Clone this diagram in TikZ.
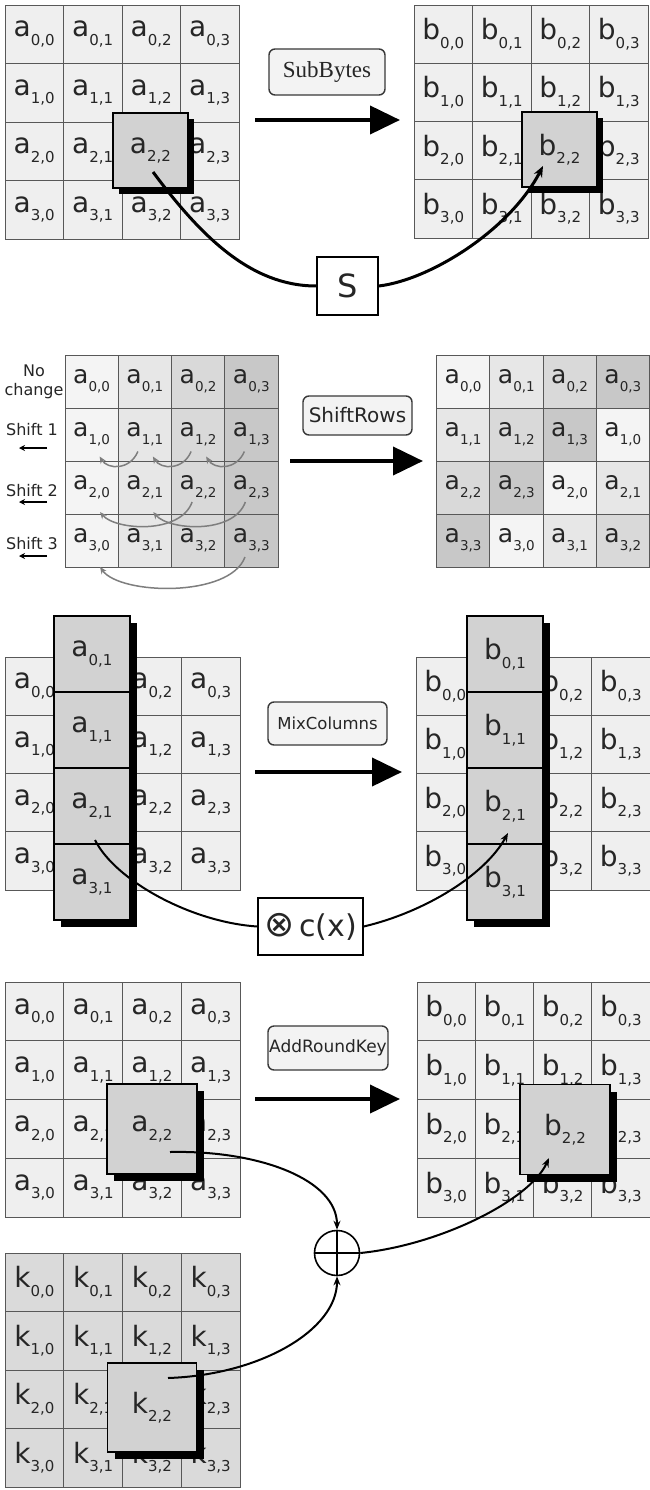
\documentclass[tikz,border=0pt]{standalone}
\usepackage{fontspec}
\setmainfont{DejaVu Sans}
\newfontfamily\serifA{Liberation Serif}
\usetikzlibrary{shadows,arrows.meta}
\definecolor{cellfill}{HTML}{EFEFEF}
\definecolor{keyfill}{HTML}{DADADA}
\definecolor{hlfill}{HTML}{D2D2D2}
\definecolor{gridc}{HTML}{585858}
\definecolor{txt}{HTML}{262626}
\definecolor{boxc}{HTML}{383838}
\definecolor{opfill}{HTML}{F3F3F3}
\definecolor{graya}{HTML}{7E7E7E}
\definecolor{sr0}{HTML}{F4F4F4}
\definecolor{sr1}{HTML}{E7E7E7}
\definecolor{sr2}{HTML}{D9D9D9}
\definecolor{sr3}{HTML}{C8C8C8}
\newcommand\subfs{15}
\newcommand\sublow{-8.5pt}
\newcommand\lab[2]{#1\raisebox{\sublow}{\fontsize{\subfs}{\subfs}\selectfont #2}}
\newcommand\hidecell[1]{\expandafter\gdef\csname sk#1\endcsname{}}
\newcommand\stategrid[6]{%
  \foreach \i in {0,...,3}{\foreach \j in {0,...,3}{%
    \node[cell, minimum width=#5pt, minimum height=#6pt] (#1-\i-\j)
      at ({#3+(\j+0.5)*#5},{#4+(\i+0.5)*#6})
      {\ifcsname sk#1-\i-\j\endcsname\else\lab{#2}{\i,\j}\fi};}}}
\hidecell{A1-2-2}\hidecell{B1-2-2}
\hidecell{A3-0-1}\hidecell{A3-1-1}\hidecell{A3-2-1}\hidecell{A3-3-1}
\hidecell{B3-0-1}\hidecell{B3-1-1}\hidecell{B3-2-1}\hidecell{B3-3-1}
\hidecell{A4-2-2}\hidecell{B4-2-2}\hidecell{K4-2-2}
\begin{document}
\begin{tikzpicture}[x=1pt,y=-1pt,
  cell/.style={draw=gridc, line width=0.8pt, fill=cellfill, inner sep=0pt, text=txt, font=\fontsize{28}{28}\selectfont},
  hlbox/.style={draw=black, line width=1.2pt, fill=hlfill, inner sep=0pt, text=txt, font=\fontsize{28}{28}\selectfont},
  shad/.style={drop shadow={shadow xshift=#1, shadow yshift=-#1, opacity=1, fill=black}},
  opbox/.style={draw=boxc, line width=1.4pt, rounded corners=6pt, fill=opfill, inner sep=0pt, text=txt},
  bigarrow/.style={line width=4pt, -{Triangle[length=30pt,width=28pt]}},
  tipA/.style={-{Stealth[length=11pt,width=9pt]}},
  tipB/.style={-{Stealth[length=9pt,width=7pt]}},
  grayarr/.style={draw=graya, line width=1.5pt, -{Stealth[length=7pt,width=6pt]}},
  shiftarr/.style={line width=1.5pt, -{Stealth[length=6pt,width=6pt]}},
  sideText/.style={font=\fontsize{16}{19}\selectfont, text=txt, align=center, inner sep=0pt},
  plainbox/.style={draw=black, line width=1.5pt, fill=white, inner sep=0pt, text=txt}
]
\useasboundingbox[fill=white] (0,0) rectangle (650,1490);

% ---------------- SubBytes ----------------
\stategrid{A1}{a}{5}{5}{58.5}{58.5}
\stategrid{B1}{b}{414}{5}{58.5}{58.25}
\node[hlbox, shad=6pt, minimum size=75pt] (HA1) at (150.5,150.5) {\lab{a}{2,2}};
\node[hlbox, shad=6pt, minimum size=75pt] (HB1) at (559.5,149.5) {\lab{b}{2,2}};
\node[opbox, minimum width=116pt, minimum height=46pt, font=\serifA\fontsize{23}{23}\selectfont] (L1) at (327,72) {SubBytes};
\coordinate (L1s) at (255,120); \coordinate (L1e) at (400,120);
\draw[bigarrow] (L1s) -- (L1e);
\node[plainbox, minimum width=61pt, minimum height=58pt, font=\fontsize{32}{32}\selectfont] (S) at (347.5,286) {S};
\coordinate (p1) at (153,172); \coordinate (p2) at (543,166);
\draw[line width=3pt] (p1) .. controls (200,235) and (250,286) .. (S.west);
\draw[line width=3pt, tipA] (S.east) .. controls (430,280) and (510,230) .. (p2);

% ---------------- ShiftRows ----------------
\begin{scope}[cell/.append style={font=\fontsize{25}{25}\selectfont}]
\renewcommand\subfs{13.5}\renewcommand\sublow{-7.5pt}
\foreach \i in {0,...,3}{\foreach \j in {0,...,3}{%
  \node[cell, fill=sr\j, minimum width=53.25pt, minimum height=53pt] (SL-\i-\j)
    at ({65+(\j+0.5)*53.25},{355+(\i+0.5)*53}) {\lab{a}{\i,\j}};
  \pgfmathtruncatemacro\k{mod(\i+\j,4)}
  \node[cell, fill=sr\k, minimum width=53.25pt, minimum height=53pt] (SR-\i-\j)
    at ({436.5+(\j+0.5)*53.25},{355+(\i+0.5)*53}) {\lab{a}{\i,\k}};
}}
\end{scope}
\node[sideText] (nc) at (34,382) {No\\change};
\node[sideText] (sh1) at (32,430) {Shift 1};
\node[sideText] (sh2) at (32,491) {Shift 2};
\node[sideText] (sh3) at (32,544) {Shift 3};
\coordinate (sa1) at (47,448); \coordinate (sb1) at (19,448);
\coordinate (sa2) at (47,502); \coordinate (sb2) at (19,502);
\coordinate (sa3) at (47,556); \coordinate (sb3) at (19,556);
\draw[shiftarr] (sa1) -- (sb1);
\draw[shiftarr] (sa2) -- (sb2);
\draw[shiftarr] (sa3) -- (sb3);
\draw[grayarr] ([shift={(-7,17)}]SL-1-1.center) .. controls +(-8,19) and +(8,13) .. ([shift={(8,22)}]SL-1-0.center);
\draw[grayarr] ([shift={(-7,17)}]SL-1-2.center) .. controls +(-8,19) and +(8,13) .. ([shift={(8,22)}]SL-1-1.center);
\draw[grayarr] ([shift={(-7,17)}]SL-1-3.center) .. controls +(-8,19) and +(8,13) .. ([shift={(8,22)}]SL-1-2.center);
\draw[grayarr] ([shift={(-6,14.5)}]SL-2-2.center) .. controls +(-12,33) and +(15,18) .. ([shift={(8.4,24.5)}]SL-2-0.center);
\draw[grayarr] ([shift={(-6,14.5)}]SL-2-3.center) .. controls +(-12,33) and +(15,18) .. ([shift={(8.4,24.5)}]SL-2-1.center);
\draw[grayarr] ([shift={(-6.4,16.5)}]SL-3-3.center) .. controls +(-15,41) and +(20,28) .. ([shift={(8.4,26.5)}]SL-3-0.center);
\node[opbox, minimum width=109pt, minimum height=39pt, font=\fontsize{20}{20}\selectfont] (L2) at (357.5,415.5) {ShiftRows};
\coordinate (L2s) at (290,461); \coordinate (L2e) at (423,461);
\draw[bigarrow] (L2s) -- (L2e);

% ---------------- MixColumns ----------------
\stategrid{A3}{a}{5}{657}{58.75}{58.25}
\stategrid{B3}{b}{416}{657}{58.5}{58.25}
\node[hlbox, shad=7pt, minimum width=76pt, minimum height=304pt] (CA) at (92,768) {};
\node[hlbox, shad=7pt, minimum width=76pt, minimum height=304pt] (CB) at (505,768) {};
\foreach \i in {0,...,3}{%
  \node[hlbox, minimum width=76pt, minimum height=76pt] (CA-\i) at (92,{654+76*\i}) {\lab{a}{\i,1}};
  \node[hlbox, minimum width=76pt, minimum height=76pt] (CB-\i) at (505,{654+76*\i}) {\lab{b}{\i,1}};
}
\node[opbox, minimum width=119pt, minimum height=43pt, font=\fontsize{16.5}{16.5}\selectfont] (L3) at (327.5,723.5) {MixColumns};
\coordinate (L3s) at (255,772); \coordinate (L3e) at (402,772);
\draw[bigarrow] (L3s) -- (L3e);
\node[plainbox, minimum width=105pt, minimum height=57pt, font=\fontsize{30}{30}\selectfont] (CX) at (310.5,926.5) {{\fontsize{36}{36}\selectfont ⊗}\,c(x)};
\coordinate (p5) at (95,840); \coordinate (p6) at (508,833);
\draw[line width=2pt] (p5) .. controls (115,880) and (190,922) .. (CX.west);
\draw[line width=2pt, tipB] (CX.east) .. controls (425,912) and (485,875) .. (p6);

% ---------------- AddRoundKey ----------------
\stategrid{A4}{a}{5}{982}{58.75}{58.75}
\stategrid{B4}{b}{417}{982}{58.25}{58.75}
\begin{scope}[cell/.append style={fill=keyfill}]
\stategrid{K4}{k}{5}{1253}{58.75}{58.5}
\end{scope}
\node[hlbox, shad=7pt, minimum size=90pt] (HA4) at (152,1129) {\lab{a}{2,2}};
\node[hlbox, shad=7pt, minimum size=90pt] (HB4) at (565,1129.5) {\lab{b}{2,2}};
\node[hlbox, shad=7pt, minimum size=89pt] (HK4) at (152,1407.5) {\lab{k}{2,2}};
\node[opbox, minimum width=120pt, minimum height=44pt, font=\fontsize{17}{17}\selectfont] (L4) at (328,1048) {AddRoundKey};
\coordinate (L4s) at (255,1099); \coordinate (L4e) at (400,1099);
\draw[bigarrow] (L4s) -- (L4e);
\node[circle, draw=black, line width=1.6pt, minimum size=45pt, inner sep=0pt, fill=white] (X) at (337,1253) {};
\draw[line width=1.6pt] (X.north) -- (X.south) (X.west) -- (X.east);
\coordinate (p7) at (170,1152); \coordinate (p8) at (168,1378); \coordinate (p9) at (549,1158);
\draw[line width=2pt, tipB] (p7) .. controls (260,1150) and (337,1180) .. (X.north);
\draw[line width=2pt, tipB] (p8) .. controls (260,1375) and (337,1330) .. (X.south);
\draw[line width=2pt, tipB] (X.east) .. controls (440,1245) and (530,1200) .. (p9);
\end{tikzpicture}
\end{document}
